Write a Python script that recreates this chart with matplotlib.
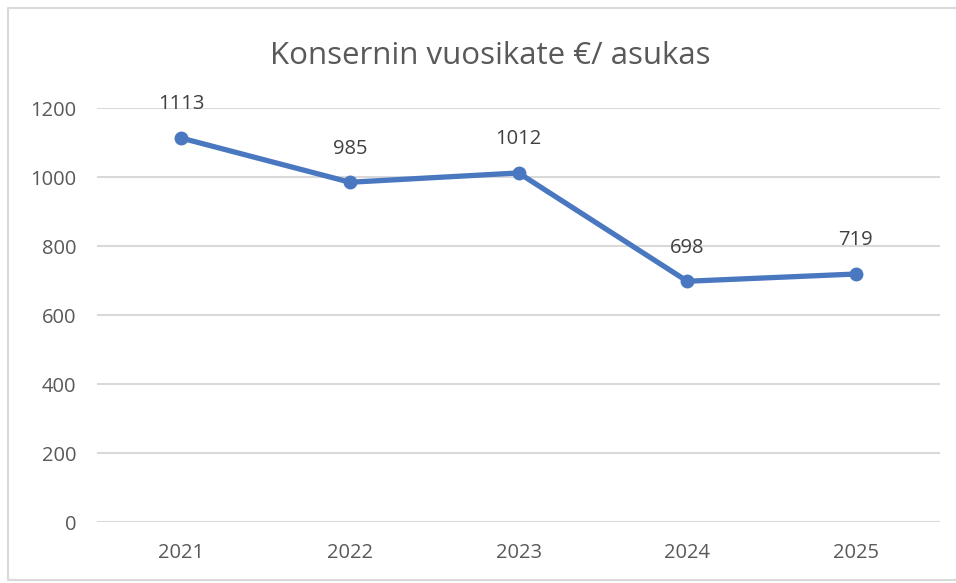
import matplotlib
matplotlib.use("Agg")
from matplotlib import pyplot as plt
from matplotlib.lines import Line2D

years = ["2021", "2022", "2023", "2024", "2025"]
values = [1113, 985, 1012, 698, 719]
yticks = [0, 200, 400, 600, 800, 1000, 1200]

plt.rcParams['font.family'] = ['Open Sans', 'DejaVu Sans']

fig = plt.figure(figsize=(9.56, 5.83), dpi=100, facecolor="w")
ax = fig.add_axes([0.1015, 0.1046, 0.882, 0.710])

x = list(range(len(years)))
ax.plot(x, values, "-", color="#4a78c0", lw=3.8, marker="o", markersize=9,
        solid_capstyle="round", zorder=3)
for xi, v in zip(x, values):
    ax.annotate(str(v), (xi, v), xytext=(0, 17), textcoords="offset points",
                ha="center", va="bottom", fontsize=14.5, color="#404040")

ax.set_xlim(-0.5, len(years) - 0.5)
ax.set_ylim(0, 1200)
ax.set_xticks(x)
ax.set_xticklabels(years)
ax.set_yticks(yticks)
ax.tick_params(axis="both", length=0, labelsize=14.5, labelcolor="#595959")
ax.tick_params(axis="y", pad=15)
ax.tick_params(axis="x", pad=15)
ax.grid(axis="y", color="#d9d9d9", lw=1.5)
ax.set_axisbelow(True)
for s in ax.spines.values():
    s.set_visible(False)

fig.text(0.513, 0.904, "Konsernin vuosikate €/ asukas", ha="center", va="center",
         fontsize=22.5, color="#595959")

# chart border: left, top and bottom only (right edge is cropped)
bx0, bx1, by0, by1 = 0.008, 1.0, 0.005, 0.986
fig.lines.append(Line2D([bx1, bx0, bx0, bx1], [by1, by1, by0, by0],
                        transform=fig.transFigure, color="#d9d9d9", lw=1.5))

plt.savefig("out.png", dpi=100, facecolor="w")
